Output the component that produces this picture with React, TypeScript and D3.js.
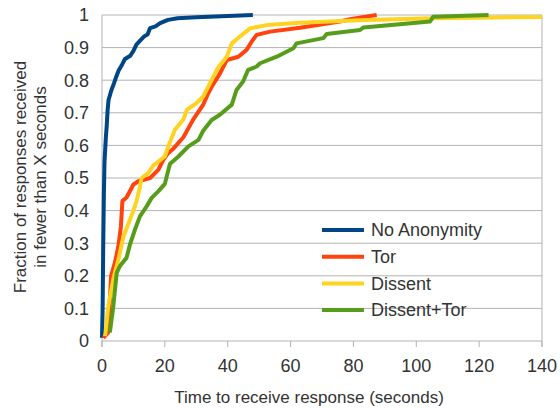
import React from 'react';
import * as d3 from 'd3';

// response time (s), cumulative fraction
const noAnonymity: [number, number][] = [
  [0, 0.01], [0.2, 0.1], [0.4, 0.3], [0.6, 0.45], [0.8, 0.55], [1.2, 0.62], [1.5, 0.66],
  [1.8, 0.71], [2.1, 0.74], [3, 0.77], [3.8, 0.79], [4.5, 0.81], [5.3, 0.83], [6.5, 0.85],
  [7.3, 0.865], [9, 0.875], [10, 0.89], [11, 0.91], [12.5, 0.925], [13.5, 0.935], [14.5, 0.94],
  [15.3, 0.96], [17, 0.965], [18.5, 0.975], [21, 0.985], [24, 0.99], [30, 0.993], [40, 0.997], [48, 1.0],
];

const tor: [number, number][] = [
  [0.4, 0.01], [2.0, 0.026], [2.9, 0.2], [4.1, 0.24], [5.2, 0.29], [6.0, 0.35], [6.5, 0.43],
  [7.8, 0.44], [10, 0.48], [11.6, 0.49], [15.3, 0.5], [17.9, 0.525], [19.5, 0.556], [21.1, 0.577],
  [22.7, 0.59], [25.9, 0.625], [29, 0.679], [32.2, 0.725], [33.8, 0.76], [34.9, 0.78], [37.5, 0.82],
  [39.7, 0.862], [43.4, 0.872], [46, 0.893], [47.6, 0.918], [49.2, 0.939], [53.5, 0.949],
  [63, 0.961], [75.7, 0.98], [78.9, 0.987], [87.4, 1.0],
];

const dissent: [number, number][] = [
  [1.0, 0.015], [2.0, 0.107], [3.6, 0.19], [5.2, 0.25], [6.8, 0.32], [8.4, 0.36], [10, 0.4],
  [11, 0.43], [12.1, 0.474], [12.6, 0.5], [14.7, 0.515], [16.3, 0.538], [20, 0.566], [21.1, 0.597],
  [23.2, 0.648], [25.9, 0.68], [27, 0.709], [30.1, 0.73], [32.2, 0.75], [35.4, 0.81], [37, 0.84],
  [39.7, 0.872], [41.3, 0.913], [43.9, 0.934], [47.1, 0.959], [52.4, 0.969], [63, 0.976],
  [84.2, 0.985], [105.4, 0.99], [140, 0.994],
];

const dissentTor: [number, number][] = [
  [2.5, 0.026], [3.6, 0.107], [4.7, 0.21], [5.7, 0.23], [7.8, 0.255], [8.9, 0.296], [10.5, 0.342],
  [12.1, 0.383], [14.2, 0.413], [15.8, 0.439], [17.9, 0.459], [20, 0.482], [21.6, 0.543],
  [24.3, 0.566], [27.5, 0.597], [30.7, 0.617], [32.2, 0.645], [34.9, 0.678], [37.5, 0.694],
  [41.3, 0.725], [42.8, 0.77], [44.9, 0.796], [46.5, 0.832], [49.2, 0.842], [50.3, 0.852],
  [55.6, 0.872], [60.9, 0.898], [61.9, 0.913], [70.4, 0.929], [71.5, 0.942], [82.1, 0.954],
  [83.2, 0.962], [104.4, 0.98], [105.4, 0.995], [123, 1.0],
];

const seriesNames = ['No Anonymity', 'Tor', 'Dissent', 'Dissent+Tor'];
const seriesData = [noAnonymity, tor, dissent, dissentTor];
const seriesColors = ['#004586', '#ff420e', '#ffd320', '#579d1c'];

const xTicks = [0, 20, 40, 60, 80, 100, 120, 140];
const yTicks = [0, 0.1, 0.2, 0.3, 0.4, 0.5, 0.6, 0.7, 0.8, 0.9, 1];

const W = 560;
const H = 408;
const margin = { top: 15, right: 18, bottom: 67, left: 102 };
const FONT = '"Liberation Sans", Arial, sans-serif';
const GRID = '#b3b3b3';
const TEXT = '#333333';

export default function App() {
  const x = d3.scaleLinear().domain([0, 140]).range([margin.left, W - margin.right]);
  const y = d3.scaleLinear().domain([0, 1]).range([H - margin.bottom, margin.top]);
  const line = d3.line<[number, number]>().x(d => x(d[0])).y(d => y(d[1]));

  const x0 = x(0), x1 = x(140), y0 = y(0), y1 = y(1);

  return (
    <svg width={W} height={H} style={{ position: 'absolute', left: 0, top: 0, background: '#fff' }}
      fontFamily={FONT}>
      {/* grid */}
      {yTicks.map(t => (
        <line key={'g' + t} x1={x0} x2={x1} y1={y(t)} y2={y(t)} stroke={GRID} strokeWidth={1} />
      ))}
      <line x1={x0} x2={x0} y1={y1} y2={y0 + 6} stroke={GRID} />
      <line x1={x1} x2={x1} y1={y1} y2={y0 + 6} stroke={GRID} />
      {xTicks.map(t => (
        <line key={'t' + t} x1={x(t)} x2={x(t)} y1={y0} y2={y0 + 6} stroke={GRID} />
      ))}

      {/* tick labels */}
      {yTicks.map(t => (
        <text key={'yl' + t} x={x0 - 13} y={y(t)} dy="0.35em" textAnchor="end" fontSize={18} fill={TEXT}>
          {d3.format('~g')(t)}
        </text>
      ))}
      {xTicks.map(t => (
        <text key={'xl' + t} x={x(t)} y={y0 + 25} dy="0.35em" textAnchor="middle" fontSize={18} fill={TEXT}>
          {t}
        </text>
      ))}

      {/* axis titles */}
      <text x={309} y={403} textAnchor="middle" fontSize={17} fill={TEXT}>
        Time to receive response (seconds)
      </text>
      <g transform={`translate(0, 177) rotate(-90)`} fontSize={17} fill={TEXT}>
        <text x={0} y={26} textAnchor="middle">Fraction of responses received</text>
        <text x={0} y={46} textAnchor="middle">in fewer than X seconds</text>
      </g>

      {/* series */}
      {seriesData.map((d, i) => (
        <path key={seriesNames[i]} d={line(d) ?? ''} fill="none" stroke={seriesColors[i]}
          strokeWidth={4} strokeLinejoin="round" />
      ))}

      {/* legend */}
      {seriesNames.map((name, i) => {
        const ly = 230 + i * 26.7;
        return (
          <g key={'lg' + name}>
            <line x1={322} x2={364} y1={ly} y2={ly} stroke={seriesColors[i]} strokeWidth={4} />
            <text x={371} y={ly} dy="0.35em" fontSize={18} fill={TEXT}>{name}</text>
          </g>
        );
      })}
    </svg>
  );
}
